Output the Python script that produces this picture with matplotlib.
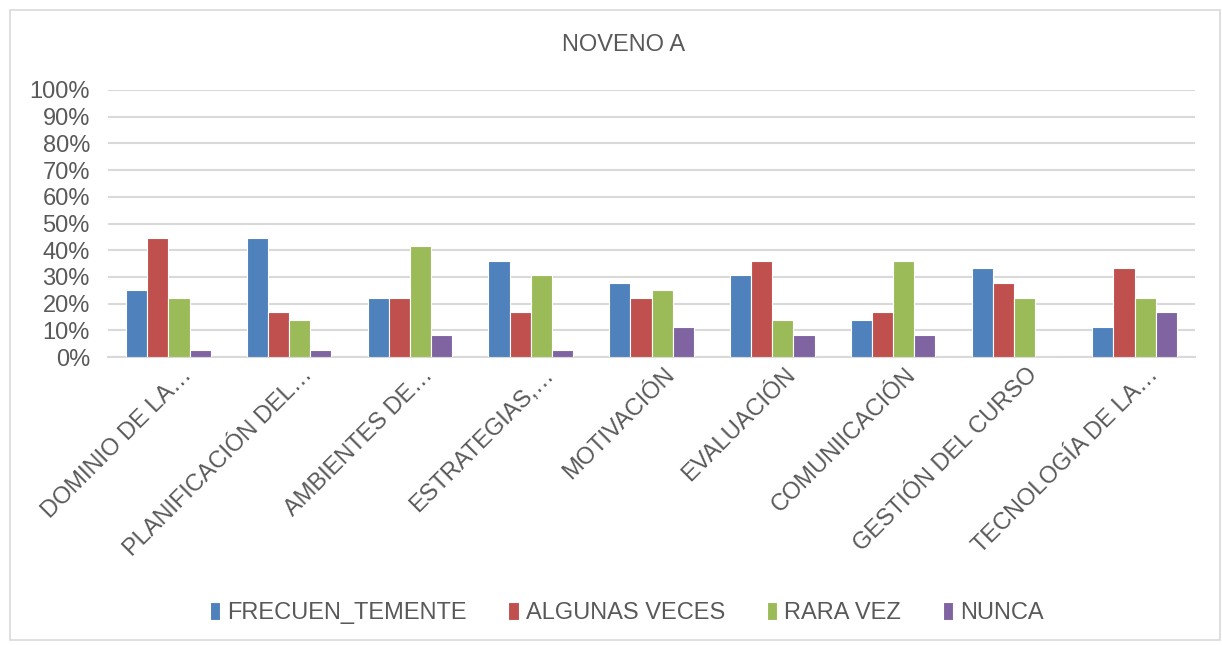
import matplotlib.pyplot as plt
import matplotlib.transforms as mtransforms
import numpy as np
from matplotlib.patches import Rectangle

plt.rcParams['font.family'] = ['Liberation Sans', 'DejaVu Sans']

categories = ['DOMINIO DE LA…', 'PLANIFICACIÓN DEL…', 'AMBIENTES DE…', 'ESTRATEGIAS,…',
              'MOTIVACIÓN', 'EVALUACIÓN', 'COMUNIICACIÓN', 'GESTIÓN DEL CURSO', 'TECNOLOGÍA DE LA…']
series = ['FRECUEN_TEMENTE', 'ALGUNAS VECES', 'RARA VEZ', 'NUNCA']
frecuentemente = [25.0, 44.4, 22.2, 36.1, 27.8, 30.6, 13.9, 33.3, 11.1]
algunas_veces = [44.4, 16.7, 22.2, 16.7, 22.2, 36.1, 16.7, 27.8, 33.3]
rara_vez = [22.2, 13.9, 41.7, 30.6, 25.0, 13.9, 36.1, 22.2, 22.2]
nunca = [2.8, 2.8, 8.3, 2.8, 11.1, 8.3, 8.3, 0.0, 16.7]
colors = ['#4f81bd', '#c0504d', '#9bbb59', '#8064a2']

txt = '#595959'
fs = 17
fig = plt.figure(figsize=(12.22, 6.45), dpi=100)
fig.patches.append(Rectangle((10 / 1222, 5 / 645), 1210 / 1222, 630 / 645, transform=fig.transFigure,
                             fill=False, edgecolor='#d9d9d9', linewidth=1.2))
ax = fig.add_axes([108 / 1222, 1 - 357 / 645, 1087 / 1222, 267 / 645])

x = np.arange(len(categories))
w = 0.175
for i, (vals, name) in enumerate(zip([frecuentemente, algunas_veces, rara_vez, nunca], series)):
    ax.bar(x + (i - 1.5) * w, vals, w, color=colors[i], edgecolor='white', linewidth=0.8,
           label=name, zorder=3)

ax.set_xlim(-0.5, len(categories) - 0.5)
ax.set_ylim(0, 100)
ax.set_yticks(range(0, 101, 10))
ax.set_yticklabels([f'{v}%' for v in range(0, 101, 10)], fontsize=fs, color=txt)
ax.yaxis.grid(True, color='#d9d9d9', linewidth=1.5, zorder=0)
ax.set_xticks(x)
ax.set_xticklabels([])
# category labels, rotated, end slightly right of the group centre like excel does
trans = ax.get_xaxis_transform() + mtransforms.ScaledTranslation(0.12, -0.07, fig.dpi_scale_trans)
for xi, cat in zip(x, categories):
    ax.text(xi, 0, cat, transform=trans, rotation=45, ha='right', va='top',
            rotation_mode='anchor', fontsize=fs, color=txt)
ax.tick_params(axis='y', length=0, pad=13)
ax.tick_params(axis='x', length=0)
for s in ['top', 'right', 'left']:
    ax.spines[s].set_visible(False)
ax.spines['bottom'].set_color('#d9d9d9')
ax.spines['bottom'].set_linewidth(1.5)

fig.text(0.51, 1 - 45 / 645, 'NOVENO A', ha='center', va='center', fontsize=fs, color=txt)
fig.legend(loc='center', bbox_to_anchor=(0.513, 1 - 613 / 645), ncol=4, frameon=False,
           fontsize=fs, labelcolor=txt, handlelength=0.45, handleheight=0.8, handletextpad=0.3,
           columnspacing=1.75)

fig.savefig('out.png', dpi=100)
